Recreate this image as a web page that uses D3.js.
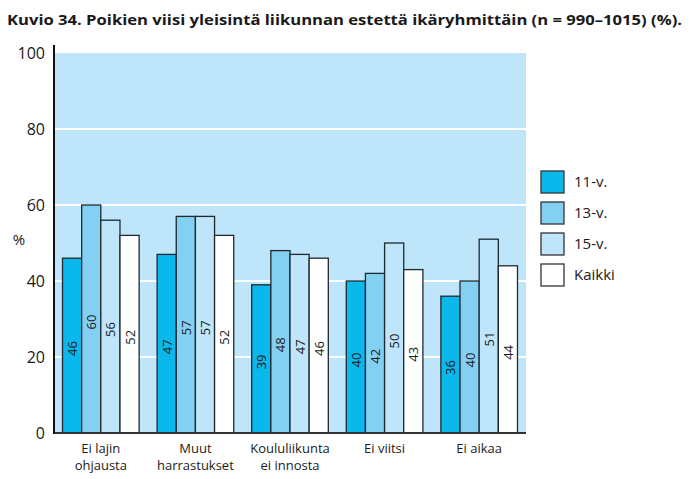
<!DOCTYPE html>
<html>
<head>
<meta charset="utf-8">
<script src="https://cdn.jsdelivr.net/npm/d3@7"></script>
<style>
  body { margin: 0; background: #fff; }
  text { font-family: "Open Sans", "Noto Sans", sans-serif; fill: #1a1a1a; }
</style>
</head>
<body>
<svg id="chart"></svg>
<script>
let categories = [["Ei lajin", "ohjausta"], ["Muut", "harrastukset"], ["Koululiikunta", "ei innosta"], ["Ei viitsi"], ["Ei aikaa"]]
let seriesNames = ["11-v.", "13-v.", "15-v.", "Kaikki"]
let v11 = [46, 47, 39, 40, 36]
let v13 = [60, 57, 48, 42, 40]
let v15 = [56, 57, 47, 50, 51]
let vAll = [52, 52, 46, 43, 44]
let yTicks = [0, 20, 40, 60, 80, 100]
let colors = ["#0bb8ec", "#84d0f3", "#bee5f9", "#ffffff"]

let outerWidth = 691
let outerHeight = 479
let margins = { top: 53, bottom: 46, left: 54, right: 165 }
let innerWidth = outerWidth - margins.left - margins.right
let innerHeight = outerHeight - margins.top - margins.bottom

let svg = d3.select("#chart")
  .attr("width", outerWidth)
  .attr("height", outerHeight)

let inner = svg.append("g")
  .attr("transform", "translate(" + margins.left + "," + margins.top + ")")

svg.append("text") // title
  .attr("x", 7)
  .attr("y", 25)
  .attr("font-size", 15)
  .attr("font-weight", "bold")
  .attr("textLength", 675)
  .attr("lengthAdjust", "spacingAndGlyphs")
  .text("Kuvio 34. Poikien viisi yleisintä liikunnan estettä ikäryhmittäin (n = 990–1015) (%).")

let yScale = d3.scaleLinear().domain([0, 100]).range([innerHeight, 0])
let xScale = d3.scaleBand().domain(d3.range(categories.length)).range([0, innerWidth]).paddingInner(0.19).paddingOuter(0.09)
let subScale = d3.scaleBand().domain(d3.range(seriesNames.length)).range([0, xScale.bandwidth()])

inner.append("rect") // plot background
  .attr("x", 0)
  .attr("y", 0)
  .attr("width", innerWidth)
  .attr("height", innerHeight)
  .attr("fill", "#bee5f9")

inner.selectAll(".grid")
  .data(yTicks.slice(1, -1))
  .enter()
  .append("line")
  .attr("x1", 0)
  .attr("x2", innerWidth)
  .attr("y1", d => yScale(d))
  .attr("y2", d => yScale(d))
  .attr("stroke", "#fff")
  .attr("stroke-width", 2)

let series = [v11, v13, v15, vAll]
let flat = []
series.forEach((s, si) => s.forEach((v, ci) => flat.push({ si: si, ci: ci, v: v })))

inner.selectAll(".bar")
  .data(flat)
  .enter()
  .append("rect")
  .attr("x", d => xScale(d.ci) + subScale(d.si))
  .attr("y", d => yScale(d.v))
  .attr("width", subScale.bandwidth())
  .attr("height", d => innerHeight - yScale(d.v))
  .attr("fill", d => colors[d.si])
  .attr("stroke", "#1e2a30")
  .attr("stroke-width", 1.3)

inner.selectAll(".lbl")
  .data(flat)
  .enter()
  .append("text")
  .attr("transform", d => {
    let cx = xScale(d.ci) + subScale(d.si) + subScale.bandwidth() / 2 + 5
    let cy = (yScale(d.v) + innerHeight) / 2 + 3
    return "translate(" + cx + "," + cy + ") rotate(-90)"
  })
  .attr("text-anchor", "middle")
  .attr("font-size", 13)
  .text(d => d.v)

// axes
inner.append("line")
  .attr("x1", 0).attr("x2", innerWidth)
  .attr("y1", innerHeight).attr("y2", innerHeight)
  .attr("stroke", "#333").attr("stroke-width", 2)

inner.append("line")
  .attr("x1", 0).attr("x2", 0)
  .attr("y1", -8).attr("y2", innerHeight + 1)
  .attr("stroke", "#111").attr("stroke-width", 2)

inner.selectAll(".ytick")
  .data(yTicks)
  .enter()
  .append("text")
  .attr("x", -9)
  .attr("y", d => yScale(d) + 6)
  .attr("text-anchor", "end")
  .attr("font-size", 16)
  .text(d => d)

svg.append("text")
  .attr("x", 19)
  .attr("y", 245)
  .attr("text-anchor", "middle")
  .attr("font-size", 15)
  .text("%")

// category labels
categories.forEach((c, i) => {
  let t = inner.append("text")
    .attr("x", xScale(i) + xScale.bandwidth() / 2)
    .attr("y", innerHeight + 20)
    .attr("text-anchor", "middle")
    .attr("font-size", 13)
  c.forEach((line, k) => {
    t.append("tspan")
      .attr("x", xScale(i) + xScale.bandwidth() / 2)
      .attr("dy", k == 0 ? 0 : 17)
      .text(line)
  })
})

// legend
let legend = svg.append("g").attr("transform", "translate(541,171)")
seriesNames.forEach((n, i) => {
  legend.append("rect")
    .attr("x", 0)
    .attr("y", i * 31)
    .attr("width", 23)
    .attr("height", 22)
    .attr("fill", colors[i])
    .attr("stroke", "#333")
    .attr("stroke-width", 1.3)
  legend.append("text")
    .attr("x", 33)
    .attr("y", i * 31 + 16)
    .attr("font-size", 15)
    .text(n)
})
</script>
</body>
</html>
